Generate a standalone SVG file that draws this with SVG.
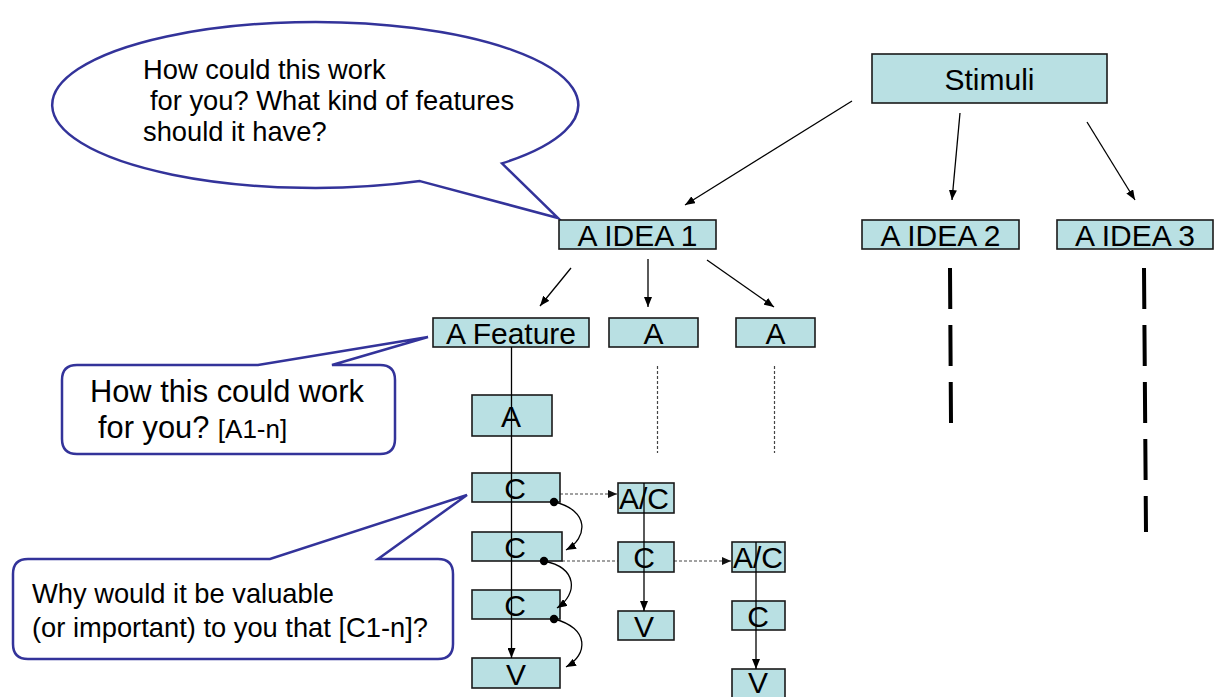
<svg xmlns="http://www.w3.org/2000/svg" width="1218" height="697" viewBox="0 0 1218 697">
<defs>
<marker id="ah" markerUnits="userSpaceOnUse" markerWidth="10" markerHeight="8" refX="10" refY="4" orient="auto"><path d="M0,0 L10,4 L0,8 Z" fill="#000"/></marker>
<marker id="ahs" markerUnits="userSpaceOnUse" markerWidth="9" markerHeight="8" refX="9" refY="4" orient="auto"><path d="M0,0 L9,4 L0,8 Z" fill="#111"/></marker>
</defs>
<style>
.box{fill:#B9E0E3;stroke:#1a1a1a;stroke-width:1.6}
.bt{font-family:"Liberation Sans",Arial,sans-serif;font-size:30px;fill:#000;text-anchor:middle}
.call{fill:#fff;stroke:#33339A;stroke-width:2.5;stroke-linejoin:miter}
.ct{font-family:"Liberation Sans",Arial,sans-serif;fill:#000}
.ar{stroke:#000;stroke-width:1.3;fill:none;marker-end:url(#ah)}
.dt{stroke:#444;stroke-width:1.2;stroke-dasharray:3 2;fill:none}
.thick{stroke:#000;stroke-width:4;stroke-dasharray:41 16;fill:none}
</style>

<g id="callout-idea">
<path class="call" d="M420,181.1 L558,218 L502,163.4 A263,83 0 1 0 420,181.1 Z"/>
<text class="ct" font-size="27.3"><tspan x="143" y="79">How could this work</tspan><tspan x="150" y="110">for you? What kind of features</tspan><tspan x="143" y="141">should it have?</tspan></text>
</g>

<g id="callout-feature">
<path class="call" d="M77,365 L258,365 L428,337 L332,365 L380,365 Q395,365 395,380 L395,439 Q395,454 380,454 L77,454 Q62,454 62,439 L62,380 Q62,365 77,365 Z"/>
<text class="ct" font-size="30.8"><tspan x="90" y="402">How this could work</tspan><tspan x="98" y="438">for you? <tspan font-size="26">[A1-n]</tspan></tspan></text>
</g>

<g id="callout-consequence">
<path class="call" d="M28,559 L270,559 L467,495 L378,559 L438,559 Q453,559 453,574 L453,644 Q453,659 438,659 L28,659 Q13,659 13,644 L13,574 Q13,559 28,559 Z"/>
<text class="ct" font-size="27.3"><tspan x="32" y="603">Why would it be valuable</tspan><tspan x="32" y="637">(or important) to you that [C1-n]?</tspan></text>
</g>

<g id="connectors-under">
<line class="dt" x1="657.5" y1="366" x2="657.5" y2="453"/>
<line class="dt" x1="774.5" y1="366" x2="774.5" y2="453"/>
<line class="dt" x1="560" y1="494" x2="617" y2="494" marker-end="url(#ahs)"/>
<line class="dt" x1="562" y1="561" x2="618" y2="561"/>
<line class="dt" x1="674" y1="561" x2="731" y2="561" marker-end="url(#ahs)"/>
<line class="thick" x1="950" y1="268" x2="951" y2="423"/>
<line class="thick" x1="1144" y1="268" x2="1146" y2="532"/>
</g>

<g id="stimuli"><rect class="box" x="872" y="54" width="235" height="49"/><text class="bt" x="989.5" y="90" font-size="28">Stimuli</text></g>
<g id="idea1"><rect class="box" x="559" y="220" width="157" height="29"/><text class="bt" x="637.5" y="246">A IDEA 1</text></g>
<g id="idea2"><rect class="box" x="862" y="220" width="157" height="29"/><text class="bt" x="940.5" y="246">A IDEA 2</text></g>
<g id="idea3"><rect class="box" x="1057" y="220" width="156" height="29"/><text class="bt" x="1135" y="246">A IDEA 3</text></g>
<g id="feature"><rect class="box" x="433" y="318" width="156" height="29"/><text class="bt" x="511" y="344">A Feature</text></g>
<g id="a-mid"><rect class="box" x="609" y="318" width="89" height="29"/><text class="bt" x="653.5" y="344">A</text></g>
<g id="a-right"><rect class="box" x="736" y="318" width="79" height="29"/><text class="bt" x="775.5" y="344">A</text></g>
<g id="attr"><rect class="box" x="472" y="395" width="80" height="41"/><text class="bt" x="511" y="427">A</text></g>
<g id="c1"><rect class="box" x="472" y="473" width="88" height="29"/><text class="bt" x="515" y="499">C</text></g>
<g id="c2"><rect class="box" x="472" y="532" width="90" height="29"/><text class="bt" x="515" y="558">C</text></g>
<g id="c3"><rect class="box" x="472" y="590" width="88" height="29"/><text class="bt" x="515" y="616">C</text></g>
<g id="v1"><rect class="box" x="472" y="658" width="88" height="30"/><text class="bt" x="516" y="685">V</text></g>
<g id="ac1"><rect class="box" x="618" y="483" width="56" height="30"/><text class="bt" x="644" y="509">A/C</text></g>
<g id="c-mid"><rect class="box" x="618" y="542" width="56" height="30"/><text class="bt" x="644" y="568">C</text></g>
<g id="v-mid"><rect class="box" x="618" y="611" width="56" height="29"/><text class="bt" x="644" y="637">V</text></g>
<g id="ac2"><rect class="box" x="732" y="542" width="53" height="30"/><text class="bt" x="758" y="568">A/C</text></g>
<g id="c-right"><rect class="box" x="732" y="601" width="53" height="29"/><text class="bt" x="758" y="627">C</text></g>
<g id="v-right"><rect class="box" x="732" y="669" width="53" height="30"/><text class="bt" x="758" y="693">V</text></g>

<g id="connectors">
<line class="ar" x1="852" y1="101" x2="685" y2="205"/>
<line class="ar" x1="960" y1="113" x2="952" y2="200"/>
<line class="ar" x1="1087" y1="122" x2="1135" y2="200"/>
<line class="ar" x1="571" y1="268" x2="540" y2="306"/>
<line class="ar" x1="648" y1="259" x2="648" y2="307"/>
<line class="ar" x1="707" y1="260" x2="774" y2="307"/>
<line class="ar" x1="511.5" y1="347" x2="511.5" y2="658"/>
<line class="ar" x1="644" y1="483" x2="644" y2="611"/>
<line class="ar" x1="756" y1="542" x2="756" y2="669"/>
<path class="ar" d="M554,502 C590,510 588,538 566,550"/>
<path class="ar" d="M544,561 C578,568 578,594 557,608"/>
<path class="ar" d="M554,619 C590,628 588,655 566,667"/>
<circle cx="554" cy="502" r="4.2" fill="#000"/>
<circle cx="544" cy="561" r="4.2" fill="#000"/>
<circle cx="554" cy="619" r="4.2" fill="#000"/>
</g>
</svg>
